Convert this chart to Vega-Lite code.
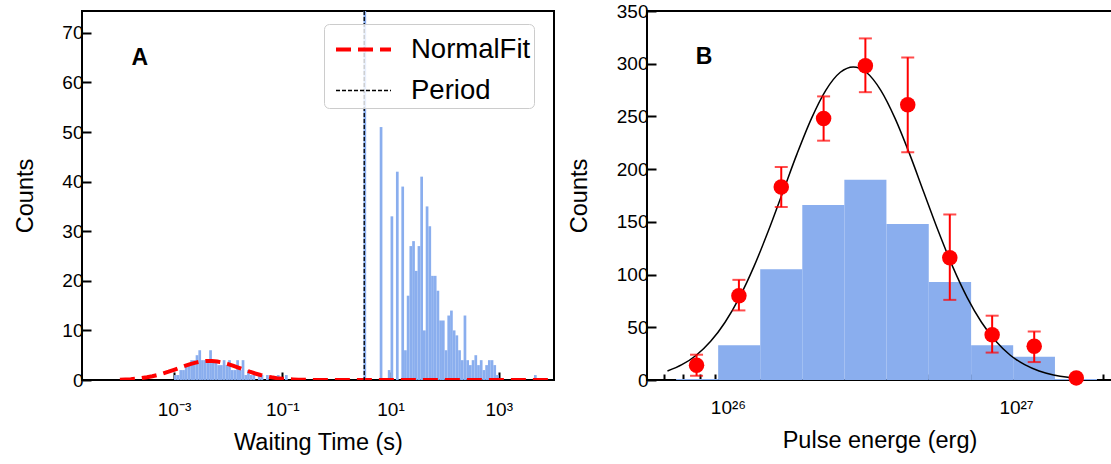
{
  "$schema": "https://vega.github.io/schema/vega-lite/v6.json",
  "background": "white",
  "padding": {"left": 12, "top": 1, "right": 0, "bottom": 0},
  "bounds": "flush",
  "spacing": 93,
  "config": {
    "font": "Liberation Sans",
    "view": {"stroke": "black", "strokeWidth": 2},
    "axis": {"domain": false, "grid": false, "tickColor": "black", "tickWidth": 2, "labelColor": "black", "titleColor": "black", "labelFont": "Liberation Sans", "titleFont": "Liberation Sans", "labelFontSize": 19, "titleFontSize": 23.5, "titleFontWeight": "normal"}
  },
  "datasets": {
    "waiting": [
      {"lo": -3.00, "hi": -2.95, "count": 1}, {"lo": -2.95, "hi": -2.90, "count": 1}, {"lo": -2.90, "hi": -2.85, "count": 2}, {"lo": -2.85, "hi": -2.80, "count": 2},
      {"lo": -2.80, "hi": -2.75, "count": 3}, {"lo": -2.75, "hi": -2.70, "count": 3}, {"lo": -2.70, "hi": -2.65, "count": 4}, {"lo": -2.65, "hi": -2.60, "count": 4},
      {"lo": -2.60, "hi": -2.55, "count": 5}, {"lo": -2.55, "hi": -2.50, "count": 6}, {"lo": -2.50, "hi": -2.45, "count": 4}, {"lo": -2.45, "hi": -2.40, "count": 4},
      {"lo": -2.40, "hi": -2.35, "count": 4}, {"lo": -2.35, "hi": -2.30, "count": 6}, {"lo": -2.30, "hi": -2.25, "count": 4}, {"lo": -2.25, "hi": -2.20, "count": 4},
      {"lo": -2.20, "hi": -2.15, "count": 3}, {"lo": -2.15, "hi": -2.10, "count": 3}, {"lo": -2.10, "hi": -2.05, "count": 4}, {"lo": -2.05, "hi": -2.00, "count": 3},
      {"lo": -2.00, "hi": -1.95, "count": 4}, {"lo": -1.95, "hi": -1.90, "count": 2}, {"lo": -1.90, "hi": -1.85, "count": 2}, {"lo": -1.85, "hi": -1.80, "count": 4},
      {"lo": -1.80, "hi": -1.75, "count": 2}, {"lo": -1.75, "hi": -1.70, "count": 4}, {"lo": -1.70, "hi": -1.65, "count": 1}, {"lo": -1.65, "hi": -1.60, "count": 2},
      {"lo": -1.60, "hi": -1.55, "count": 1}, {"lo": -1.55, "hi": -1.50, "count": 1}, {"lo": -1.45, "hi": -1.40, "count": 1}, {"lo": -1.40, "hi": -1.35, "count": 1},
      {"lo": -1.30, "hi": -1.25, "count": 1}, {"lo": -1.10, "hi": -1.05, "count": 1}, {"lo": -0.95, "hi": -0.90, "count": 1},
      {"lo": 0.50, "hi": 0.55, "count": 120},
      {"lo": 0.80, "hi": 0.85, "count": 51}, {"lo": 0.95, "hi": 1.00, "count": 2}, {"lo": 1.00, "hi": 1.05, "count": 33}, {"lo": 1.10, "hi": 1.15, "count": 42},
      {"lo": 1.20, "hi": 1.25, "count": 39}, {"lo": 1.25, "hi": 1.30, "count": 6}, {"lo": 1.30, "hi": 1.35, "count": 17}, {"lo": 1.35, "hi": 1.40, "count": 27},
      {"lo": 1.40, "hi": 1.45, "count": 28}, {"lo": 1.45, "hi": 1.50, "count": 22}, {"lo": 1.50, "hi": 1.55, "count": 27}, {"lo": 1.55, "hi": 1.60, "count": 41},
      {"lo": 1.60, "hi": 1.65, "count": 10}, {"lo": 1.65, "hi": 1.70, "count": 35}, {"lo": 1.70, "hi": 1.75, "count": 31}, {"lo": 1.75, "hi": 1.80, "count": 21},
      {"lo": 1.80, "hi": 1.85, "count": 21}, {"lo": 1.85, "hi": 1.90, "count": 18}, {"lo": 1.90, "hi": 1.95, "count": 12}, {"lo": 1.95, "hi": 2.00, "count": 12},
      {"lo": 2.00, "hi": 2.05, "count": 6}, {"lo": 2.05, "hi": 2.10, "count": 13}, {"lo": 2.10, "hi": 2.15, "count": 14}, {"lo": 2.15, "hi": 2.20, "count": 10},
      {"lo": 2.20, "hi": 2.25, "count": 9}, {"lo": 2.25, "hi": 2.30, "count": 6}, {"lo": 2.30, "hi": 2.35, "count": 4}, {"lo": 2.35, "hi": 2.40, "count": 13},
      {"lo": 2.40, "hi": 2.45, "count": 4}, {"lo": 2.45, "hi": 2.50, "count": 3}, {"lo": 2.50, "hi": 2.55, "count": 4}, {"lo": 2.55, "hi": 2.60, "count": 5},
      {"lo": 2.60, "hi": 2.65, "count": 3}, {"lo": 2.65, "hi": 2.70, "count": 4}, {"lo": 2.70, "hi": 2.75, "count": 2}, {"lo": 2.75, "hi": 2.80, "count": 3},
      {"lo": 2.80, "hi": 2.85, "count": 4}, {"lo": 2.85, "hi": 2.90, "count": 4}, {"lo": 2.90, "hi": 2.95, "count": 3}, {"lo": 2.95, "hi": 3.00, "count": 1},
      {"lo": 3.65, "hi": 3.70, "count": 1}
    ],
    "normalfit": [
      {"log_t": -4.00, "count": 0.067, "series": "NormalFit"}, {"log_t": -3.90, "count": 0.108, "series": "NormalFit"}, {"log_t": -3.80, "count": 0.169, "series": "NormalFit"},
      {"log_t": -3.70, "count": 0.256, "series": "NormalFit"}, {"log_t": -3.60, "count": 0.377, "series": "NormalFit"}, {"log_t": -3.50, "count": 0.539, "series": "NormalFit"},
      {"log_t": -3.40, "count": 0.748, "series": "NormalFit"}, {"log_t": -3.30, "count": 1.007, "series": "NormalFit"}, {"log_t": -3.20, "count": 1.316, "series": "NormalFit"},
      {"log_t": -3.10, "count": 1.669, "series": "NormalFit"}, {"log_t": -3.00, "count": 2.055, "series": "NormalFit"}, {"log_t": -2.90, "count": 2.456, "series": "NormalFit"},
      {"log_t": -2.80, "count": 2.849, "series": "NormalFit"}, {"log_t": -2.70, "count": 3.209, "series": "NormalFit"}, {"log_t": -2.60, "count": 3.508, "series": "NormalFit"},
      {"log_t": -2.50, "count": 3.723, "series": "NormalFit"}, {"log_t": -2.40, "count": 3.836, "series": "NormalFit"}, {"log_t": -2.30, "count": 3.836, "series": "NormalFit"},
      {"log_t": -2.20, "count": 3.723, "series": "NormalFit"}, {"log_t": -2.10, "count": 3.508, "series": "NormalFit"}, {"log_t": -2.00, "count": 3.209, "series": "NormalFit"},
      {"log_t": -1.90, "count": 2.849, "series": "NormalFit"}, {"log_t": -1.80, "count": 2.456, "series": "NormalFit"}, {"log_t": -1.70, "count": 2.055, "series": "NormalFit"},
      {"log_t": -1.60, "count": 1.669, "series": "NormalFit"}, {"log_t": -1.50, "count": 1.316, "series": "NormalFit"}, {"log_t": -1.40, "count": 1.007, "series": "NormalFit"},
      {"log_t": -1.30, "count": 0.748, "series": "NormalFit"}, {"log_t": -1.20, "count": 0.539, "series": "NormalFit"}, {"log_t": -1.10, "count": 0.377, "series": "NormalFit"},
      {"log_t": -1.00, "count": 0.256, "series": "NormalFit"}, {"log_t": -0.90, "count": 0.169, "series": "NormalFit"}, {"log_t": -0.80, "count": 0.108, "series": "NormalFit"},
      {"log_t": -0.70, "count": 0.067, "series": "NormalFit"}, {"log_t": -0.60, "count": 0.041, "series": "NormalFit"}, {"log_t": -0.50, "count": 0.024, "series": "NormalFit"},
      {"log_t": -0.40, "count": 0.013, "series": "NormalFit"}, {"log_t": 0.00, "count": 0.0, "series": "NormalFit"}, {"log_t": 1.00, "count": 0.0, "series": "NormalFit"},
      {"log_t": 2.00, "count": 0.0, "series": "NormalFit"}, {"log_t": 3.00, "count": 0.0, "series": "NormalFit"}, {"log_t": 4.02, "count": 0.0, "series": "NormalFit"}
    ],
    "period": [{"log_t": 0.514, "series": "Period"}],
    "energy_hist": [
      {"lo": 25.820, "hi": 25.966, "count": 1}, {"lo": 25.966, "hi": 26.112, "count": 33}, {"lo": 26.112, "hi": 26.258, "count": 105},
      {"lo": 26.258, "hi": 26.404, "count": 166}, {"lo": 26.404, "hi": 26.550, "count": 190}, {"lo": 26.550, "hi": 26.697, "count": 148},
      {"lo": 26.697, "hi": 26.844, "count": 93}, {"lo": 26.844, "hi": 26.990, "count": 33}, {"lo": 26.990, "hi": 27.135, "count": 22},
      {"lo": 27.135, "hi": 27.281, "count": 1}
    ],
    "energy_fit": [
      {"logE": 25.79, "count": 8.5}, {"logE": 25.84, "count": 14.5}, {"logE": 25.89, "count": 23.5}, {"logE": 25.94, "count": 36.7},
      {"logE": 25.99, "count": 54.8}, {"logE": 26.04, "count": 78.4}, {"logE": 26.09, "count": 107.5}, {"logE": 26.14, "count": 141.3},
      {"logE": 26.19, "count": 177.9}, {"logE": 26.24, "count": 214.7}, {"logE": 26.29, "count": 248.2}, {"logE": 26.34, "count": 275.0},
      {"logE": 26.39, "count": 291.9}, {"logE": 26.435, "count": 297.0}, {"logE": 26.48, "count": 291.9}, {"logE": 26.53, "count": 275.0},
      {"logE": 26.58, "count": 248.2}, {"logE": 26.63, "count": 214.7}, {"logE": 26.68, "count": 177.9}, {"logE": 26.73, "count": 141.3},
      {"logE": 26.78, "count": 107.5}, {"logE": 26.83, "count": 78.4}, {"logE": 26.88, "count": 54.8}, {"logE": 26.93, "count": 36.7},
      {"logE": 26.98, "count": 23.5}, {"logE": 27.03, "count": 14.5}, {"logE": 27.08, "count": 8.5}, {"logE": 27.13, "count": 4.8},
      {"logE": 27.18, "count": 2.6}, {"logE": 27.21, "count": 1.8}
    ],
    "energy_points": [
      {"logE": 25.891, "count": 14, "lo": 4, "hi": 24}, {"logE": 26.038, "count": 80, "lo": 66, "hi": 95},
      {"logE": 26.185, "count": 183, "lo": 164, "hi": 202}, {"logE": 26.332, "count": 248, "lo": 227, "hi": 269},
      {"logE": 26.477, "count": 298, "lo": 273, "hi": 324}, {"logE": 26.624, "count": 261, "lo": 216, "hi": 306},
      {"logE": 26.770, "count": 116, "lo": 76, "hi": 157}, {"logE": 26.917, "count": 43, "lo": 26, "hi": 61},
      {"logE": 27.063, "count": 32, "lo": 17, "hi": 46}, {"logE": 27.209, "count": 2, "lo": 1, "hi": 3}
    ]
  },
  "hconcat": [
    {
      "width": 472,
      "height": 369,
      "layer": [
        {
          "data": {"name": "waiting"},
          "mark": {"type": "rect", "fill": "#8aaeee", "clip": true},
          "encoding": {
            "x": {"field": "lo", "type": "quantitative", "scale": {"domain": [-4.70, 4.02], "nice": false, "zero": false},
                  "axis": {"values": [-3, -1, 1, 3], "title": "Waiting Time (s)", "tickSize": -8, "labelPadding": 28, "titlePadding": 11,
                           "labelExpr": "datum.value == -3 ? '10⁻³' : datum.value == -1 ? '10⁻¹' : datum.value == 1 ? '10¹' : '10³'"}},
            "x2": {"field": "hi"},
            "y": {"field": "count", "type": "quantitative", "scale": {"domain": [0, 74.4], "nice": false},
                  "axis": {"values": [0, 10, 20, 30, 40, 50, 60, 70], "title": "Counts", "tickSize": -9, "labelPadding": 8, "titlePadding": 24}},
            "y2": {"datum": 0}
          }
        },
        {
          "data": {"name": "normalfit"},
          "mark": {"type": "line", "clip": true},
          "encoding": {
            "x": {"field": "log_t", "type": "quantitative"},
            "y": {"field": "count", "type": "quantitative"},
            "color": {"field": "series", "type": "nominal", "scale": {"domain": ["NormalFit", "Period"], "range": ["#ff0000", "#000000"]},
                      "legend": {"orient": "none", "legendX": 242, "legendY": 13, "title": null, "fillColor": "rgba(255,255,255,0.8)", "strokeColor": "#cccccc",
                                 "cornerRadius": 5, "padding": 3.5, "symbolType": "M-1.375,0L1.375,0", "symbolSize": 1600, "symbolOffset": 14, "labelFontSize": 27.5, "labelOffset": 25.5,
                                 "rowPadding": 6, "labelFont": "Liberation Sans", "labelColor": "black"}},
            "strokeDash": {"field": "series", "type": "nominal", "scale": {"domain": ["NormalFit", "Period"], "range": [[15, 7], [4, 2]]},
                           "legend": {"orient": "none", "legendX": 242, "legendY": 13, "title": null, "fillColor": "rgba(255,255,255,0.8)", "strokeColor": "#cccccc",
                                 "cornerRadius": 5, "padding": 3.5, "symbolType": "M-1.375,0L1.375,0", "symbolSize": 1600, "symbolOffset": 14, "labelFontSize": 27.5, "labelOffset": 25.5,
                                 "rowPadding": 6, "labelFont": "Liberation Sans", "labelColor": "black"}},
            "strokeWidth": {"field": "series", "type": "nominal", "scale": {"domain": ["NormalFit", "Period"], "range": [4, 1.3]},
                            "legend": {"orient": "none", "legendX": 242, "legendY": 13, "title": null, "fillColor": "rgba(255,255,255,0.8)", "strokeColor": "#cccccc",
                                 "cornerRadius": 5, "padding": 3.5, "symbolType": "M-1.375,0L1.375,0", "symbolSize": 1600, "symbolOffset": 14, "labelFontSize": 27.5, "labelOffset": 25.5,
                                 "rowPadding": 6, "labelFont": "Liberation Sans", "labelColor": "black"}}
          }
        },
        {
          "data": {"name": "period"},
          "mark": {"type": "rule"},
          "encoding": {
            "x": {"field": "log_t", "type": "quantitative"},
            "color": {"field": "series", "type": "nominal"},
            "strokeDash": {"field": "series", "type": "nominal"},
            "strokeWidth": {"field": "series", "type": "nominal"}
          }
        },
        {
          "data": {"values": [{}]},
          "mark": {"type": "text", "text": "A", "fontSize": 23, "fontWeight": "bold", "font": "Liberation Sans", "color": "black"},
          "encoding": {"x": {"datum": -3.63}, "y": {"datum": 65}}
        }
      ]
    },
    {
      "width": 465,
      "height": 369,
      "resolve": {"axis": {"x": "independent"}},
      "layer": [
        {
          "data": {"name": "energy_hist"},
          "mark": {"type": "rect", "fill": "#8aaeee"},
          "encoding": {
            "x": {"field": "lo", "type": "quantitative", "scale": {"domain": [25.719, 27.333], "nice": false, "zero": false},
                  "axis": {"values": [26, 27], "orient": "bottom", "title": "Pulse energe (erg)", "tickSize": -10, "labelPadding": 28, "titlePadding": 11,
                           "labelExpr": "datum.value == 26 ? '10²⁶' : '10²⁷'"}},
            "x2": {"field": "hi"},
            "y": {"field": "count", "type": "quantitative", "scale": {"domain": [0, 350], "nice": false},
                  "axis": {"values": [0, 50, 100, 150, 200, 250, 300, 350], "title": "Counts", "tickSize": -9, "labelPadding": 8, "titlePadding": 25}},
            "y2": {"datum": 0}
          }
        },
        {
          "data": {"name": "energy_fit"},
          "mark": {"type": "line", "color": "black", "strokeWidth": 1.5, "interpolate": "monotone"},
          "encoding": {
            "x": {"field": "logE", "type": "quantitative",
                  "axis": {"values": [25.778, 25.845, 25.903, 25.954, 26.301, 26.477, 26.602, 26.699, 26.778, 26.845, 26.903, 26.954, 27.301],
                           "orient": "bottom", "labels": false, "title": null, "tickSize": -6}},
            "y": {"field": "count", "type": "quantitative"}
          }
        },
        {
          "data": {"name": "energy_points"},
          "mark": {"type": "rule", "color": "#ff0000", "strokeWidth": 2},
          "encoding": {
            "x": {"field": "logE", "type": "quantitative", "axis": null},
            "y": {"field": "lo", "type": "quantitative"},
            "y2": {"field": "hi"}
          }
        },
        {
          "data": {"name": "energy_points"},
          "mark": {"type": "tick", "orient": "horizontal", "color": "#ff0000", "size": 13, "thickness": 2},
          "encoding": {
            "x": {"field": "logE", "type": "quantitative", "axis": null},
            "y": {"field": "lo", "type": "quantitative"}
          }
        },
        {
          "data": {"name": "energy_points"},
          "mark": {"type": "tick", "orient": "horizontal", "color": "#ff0000", "size": 13, "thickness": 2},
          "encoding": {
            "x": {"field": "logE", "type": "quantitative", "axis": null},
            "y": {"field": "hi", "type": "quantitative"}
          }
        },
        {
          "data": {"name": "energy_points"},
          "mark": {"type": "circle", "color": "#ff0000", "opacity": 1, "size": 240},
          "encoding": {
            "x": {"field": "logE", "type": "quantitative", "axis": null},
            "y": {"field": "count", "type": "quantitative"}
          }
        },
        {
          "data": {"values": [{}]},
          "mark": {"type": "text", "text": "B", "fontSize": 23, "fontWeight": "bold", "font": "Liberation Sans", "color": "black"},
          "encoding": {"x": {"datum": 25.917, "type": "quantitative", "axis": null}, "y": {"datum": 306}}
        }
      ]
    }
  ]
}
